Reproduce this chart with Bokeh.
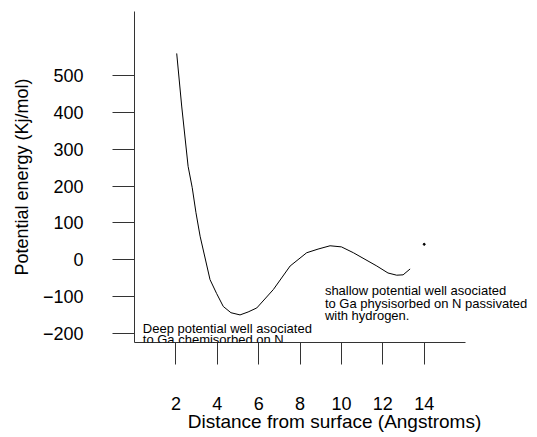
from bokeh.plotting import figure
from bokeh.models import FixedTicker, Label, Range1d
from bokeh.embed import file_html
from bokeh.resources import INLINE

# Curve
distance = [2.04, 2.28, 2.59, 2.79, 2.97, 3.17, 3.65, 3.97, 4.29, 4.66, 5.10, 5.49, 5.91,
            6.71, 7.52, 8.32, 8.87, 9.45, 10.0, 10.58, 11.71, 12.25, 12.67, 12.98, 13.32]
energy = [561, 418, 254, 196, 128, 64, -54, -92, -127, -144, -150, -142, -131,
          -81, -17, 19, 29, 38, 35, 19, -17, -36, -42, -41, -25]
dot_x = [14.0]
dot_y = [42]

x_ticks = [2, 4, 6, 8, 10, 12, 14]
y_ticks = [-200, -100, 0, 100, 200, 300, 400, 500]
x_axis_span = (0, 16)
y_axis_span = (-225, 675)

notes_text = ["Deep potential well asociated", "to Ga chemisorbed on N.",
              "shallow potential well asociated", "to Ga physisorbed on N passivated",
              "with hydrogen."]
notes_x = [0.40, 0.40, 9.2, 9.2, 9.2]
notes_y = [-187, -218, -83.5, -118, -151.5]

FONT = "Liberation Sans"
AXC = "#333333"

p = figure(frame_width=400, frame_height=331, min_border_left=134, min_border_right=0,
           min_border_top=11, min_border_bottom=95,
           x_range=Range1d(0, 19.33), y_range=Range1d(*y_axis_span),
           output_backend="svg", toolbar_location=None)
p.outline_line_color = None
p.xgrid.visible = False
p.ygrid.visible = False
p.background_fill_color = "white"
p.border_fill_color = "white"

p.line(distance, energy, line_color="black", line_width=1)
p.scatter(dot_x, dot_y, size=2, color="black")

xa = p.xaxis[0]
xa.bounds = x_axis_span
xa.ticker = FixedTicker(ticks=x_ticks)
xa.minor_tick_line_color = None
xa.major_tick_in = 0
xa.major_tick_out = 22
xa.major_label_standoff = 32
xa.axis_line_color = AXC
xa.major_tick_line_color = AXC
xa.major_label_text_font = FONT
xa.major_label_text_font_size = "18px"
xa.major_label_text_color = "black"
xa.axis_label = "Distance from surface (Angstroms)"
xa.axis_label_text_font = FONT
xa.axis_label_text_font_size = "19px"
xa.axis_label_text_font_style = "normal"
xa.axis_label_text_color = "black"
xa.axis_label_standoff = -2

ya = p.yaxis[0]
ya.bounds = y_axis_span
ya.ticker = FixedTicker(ticks=y_ticks)
ya.minor_tick_line_color = None
ya.major_tick_in = 0
ya.major_tick_out = 22
ya.major_label_standoff = 29
ya.axis_line_color = AXC
ya.major_tick_line_color = AXC
ya.major_label_text_font = FONT
ya.major_label_text_font_size = "18px"
ya.major_label_text_color = "black"
ya.major_label_orientation = "horizontal"
ya.axis_label = "Potential energy (Kj/mol)"
ya.axis_label_text_font = FONT
ya.axis_label_text_font_size = "18px"
ya.axis_label_text_font_style = "normal"
ya.axis_label_text_color = "black"
ya.axis_label_standoff = 8

for t, x, y in zip(notes_text, notes_x, notes_y):
    p.add_layout(Label(x=x, y=y, text=t, text_font=FONT, text_font_size="13px",
                       text_color="black", text_baseline="alphabetic", text_align="left",
                       level="overlay"))

open("out.html", "w").write(file_html(p, INLINE))
